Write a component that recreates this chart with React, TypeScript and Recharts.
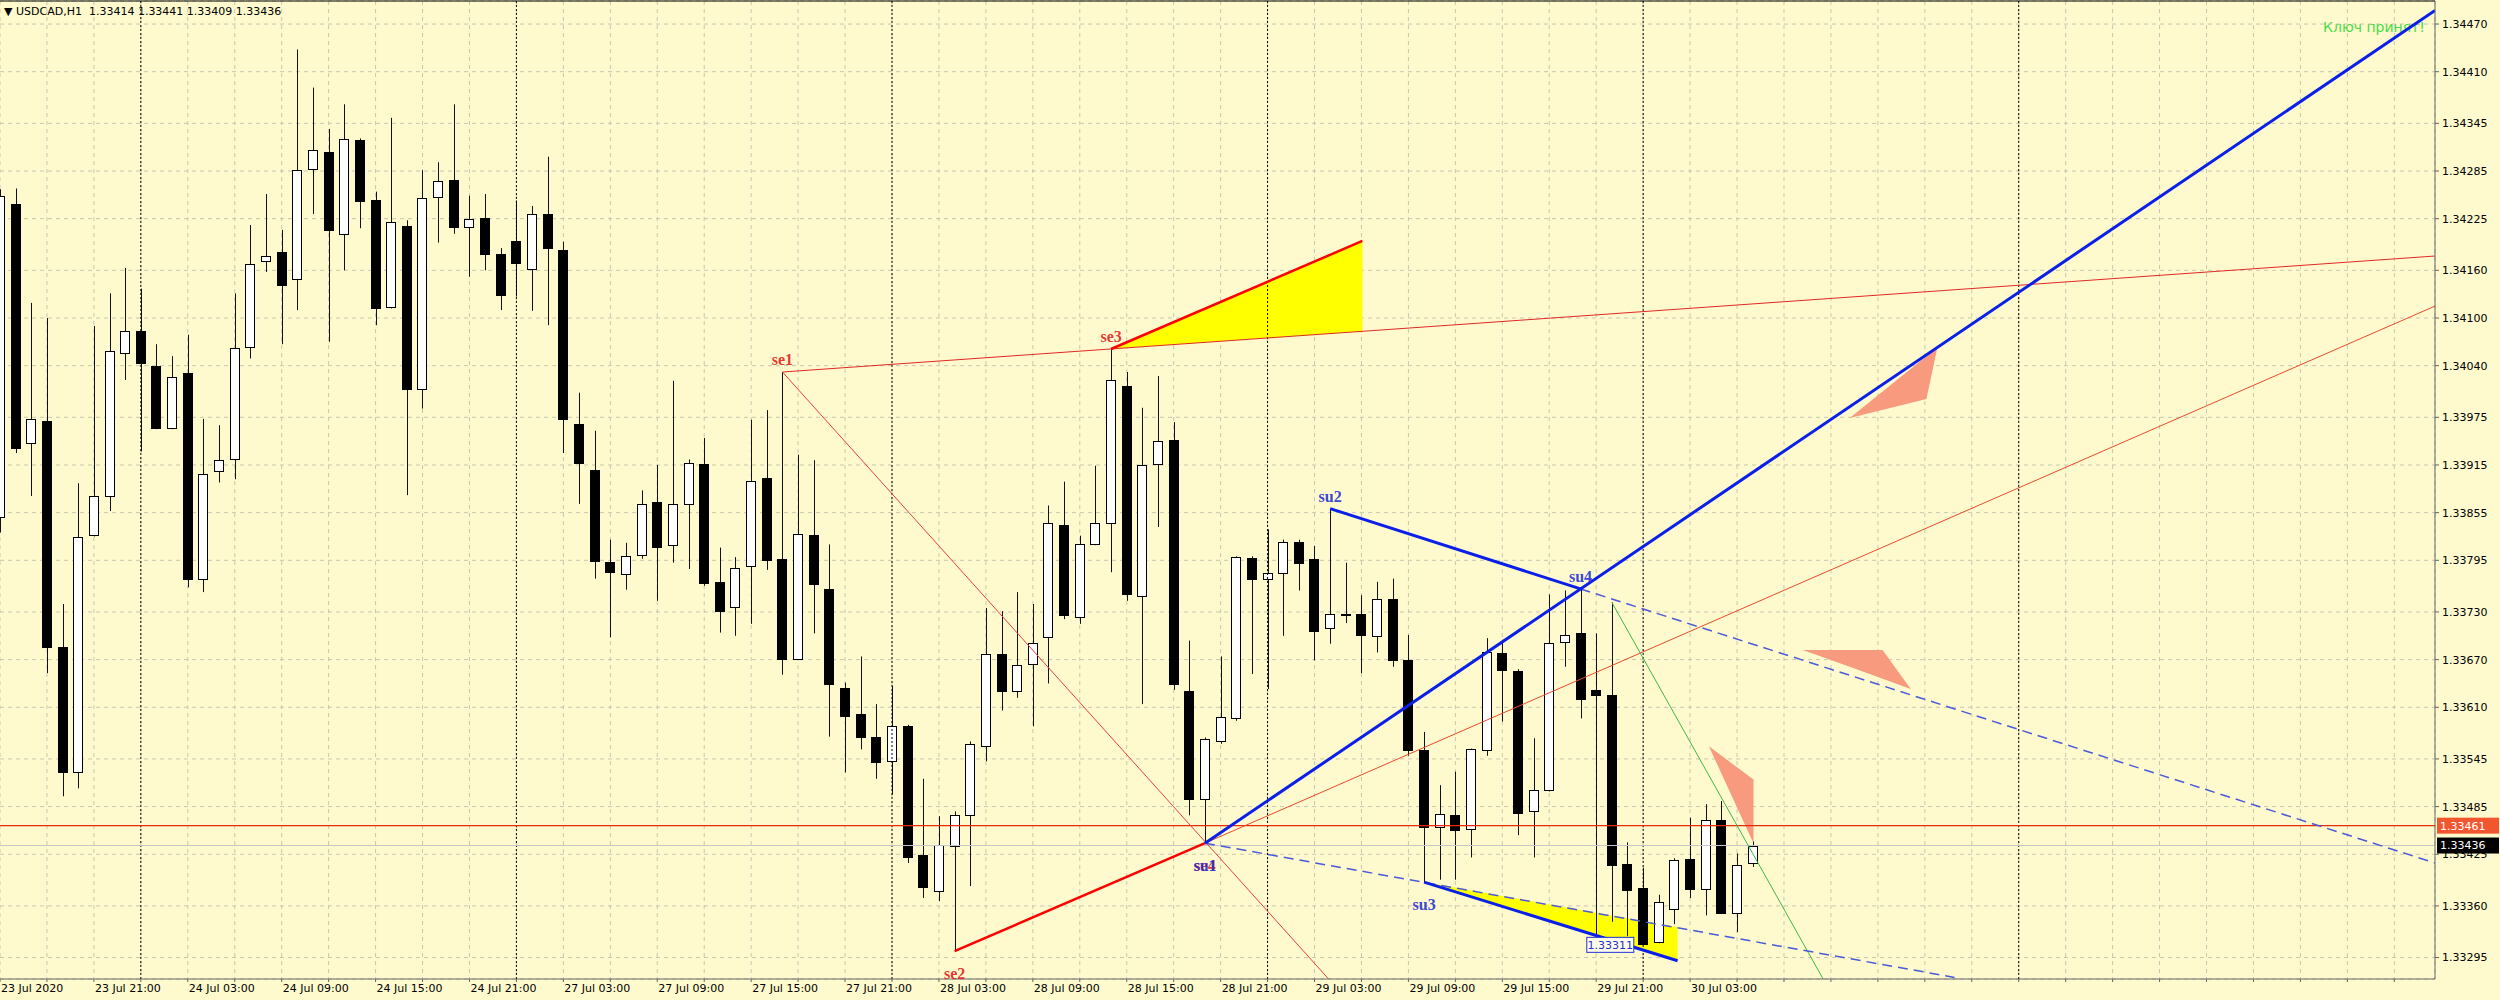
import { Area, Bar, CartesianGrid, ComposedChart, Line, ReferenceDot, ReferenceLine, XAxis, YAxis } from 'recharts';

const BG = '#fffacd';
const FONT = '"DejaVu Sans", sans-serif';
const SERIF = '"Liberation Serif", serif';

// USDCAD H1, bar 0 = 23 Jul 15:00
const opens = [
  1.33849, 1.34244, 1.33943, 1.3397, 1.33686, 1.33528, 1.33827, 1.33876, 1.34056, 1.34084,
  1.3404, 1.33962, 1.34031, 1.33772, 1.33907, 1.33922, 1.34063, 1.34172, 1.34183, 1.34149,
  1.34287, 1.34309, 1.34206, 1.34324, 1.34248, 1.34114, 1.34216, 1.34011, 1.34252, 1.34274,
  1.34214, 1.34226, 1.34181, 1.34197, 1.34162, 1.34231, 1.34185, 1.33967, 1.33909, 1.33793,
  1.33778, 1.33802, 1.33868, 1.33814, 1.33866, 1.33916, 1.33768, 1.33736, 1.33788, 1.33899,
  1.33797, 1.33671, 1.33827, 1.33759, 1.33634, 1.33602, 1.33573, 1.33542, 1.33586, 1.33424,
  1.33379, 1.33435, 1.33475, 1.33561, 1.33677, 1.33631, 1.33665, 1.33698, 1.33839, 1.33724,
  1.33815, 1.33842, 1.34015, 1.3375, 1.33916, 1.33947, 1.33631, 1.33494, 1.33567, 1.33597,
  1.33798, 1.33772, 1.33779, 1.33818, 1.33797, 1.3371, 1.33726, 1.33727, 1.337, 1.33746,
  1.3367, 1.33556, 1.33459, 1.33475, 1.33457, 1.33556, 1.33678, 1.33656, 1.33479, 1.33506,
  1.33692, 1.33704, 1.33632, 1.33625, 1.33413, 1.33383, 1.33314, 1.33356, 1.33419, 1.33381,
  1.33468, 1.33351, 1.33414,
];
const highs = [
  1.34262, 1.34263, 1.34119, 1.341, 1.3374, 1.33892, 1.3409, 1.34131, 1.34163, 1.34137,
  1.34067, 1.34052, 1.34079, 1.33973, 1.33965, 1.34131, 1.34217, 1.34256, 1.34211, 1.34438,
  1.3439, 1.34338, 1.34369, 1.34326, 1.34259, 1.34352, 1.34223, 1.34286, 1.34296, 1.34369,
  1.34254, 1.34256, 1.34188, 1.34248, 1.34241, 1.34303, 1.34196, 1.34006, 1.33958, 1.33821,
  1.33817, 1.33883, 1.33915, 1.34021, 1.33922, 1.33949, 1.33811, 1.33799, 1.33972, 1.33984,
  1.34032, 1.33928, 1.33921, 1.33815, 1.33641, 1.33674, 1.33614, 1.33637, 1.33588, 1.3352,
  1.33473, 1.33479, 1.33567, 1.33735, 1.33731, 1.33755, 1.3374, 1.33864, 1.33894, 1.33826,
  1.33914, 1.34061, 1.34032, 1.33987, 1.34027, 1.33969, 1.33694, 1.33572, 1.33674, 1.338,
  1.338, 1.33834, 1.33821, 1.33821, 1.33813, 1.3386, 1.33792, 1.33751, 1.33768, 1.33772,
  1.33701, 1.33579, 1.33512, 1.33529, 1.33558, 1.33697, 1.33695, 1.33658, 1.33571, 1.33752,
  1.33757, 1.33759, 1.33703, 1.33742, 1.3344, 1.33408, 1.33374, 1.3342, 1.33471, 1.33488,
  1.33492, 1.33426, 1.33441,
];
const lows = [
  1.3383, 1.3393, 1.33876, 1.33653, 1.33498, 1.33508, 1.33825, 1.33857, 1.34022, 1.33932,
  1.3396, 1.3396, 1.33761, 1.33755, 1.33893, 1.33897, 1.34049, 1.34158, 1.34067, 1.3411,
  1.34231, 1.3407, 1.3416, 1.34213, 1.34091, 1.34112, 1.33877, 1.33986, 1.34195, 1.34206,
  1.34152, 1.3416, 1.3411, 1.34127, 1.34109, 1.34091, 1.3393, 1.33866, 1.33772, 1.33698,
  1.33758, 1.33797, 1.33744, 1.33792, 1.33784, 1.33763, 1.33704, 1.337, 1.33715, 1.33783,
  1.33651, 1.3367, 1.33703, 1.33573, 1.33528, 1.33557, 1.3352, 1.335, 1.33414, 1.3337,
  1.33366, 1.33303, 1.33385, 1.33542, 1.33606, 1.33622, 1.33586, 1.3364, 1.33721, 1.33715,
  1.33814, 1.3378, 1.33744, 1.33614, 1.33837, 1.33632, 1.33474, 1.33439, 1.33564, 1.33593,
  1.33652, 1.33633, 1.337, 1.33757, 1.33669, 1.3369, 1.33716, 1.33653, 1.33679, 1.33661,
  1.33549, 1.3339, 1.33393, 1.33393, 1.33421, 1.33549, 1.33592, 1.33449, 1.33421, 1.33504,
  1.33661, 1.33596, 1.33322, 1.3334, 1.33322, 1.33311, 1.33313, 1.33337, 1.3337, 1.33348,
  1.3335, 1.33327, 1.33409,
];
const closes = [
  1.34253, 1.33936, 1.33973, 1.33686, 1.33528, 1.33824, 1.33876, 1.34058, 1.34084, 1.34043,
  1.33962, 1.34026, 1.33771, 1.33904, 1.33921, 1.34062, 1.34168, 1.34178, 1.34142, 1.34286,
  1.34311, 1.34211, 1.34325, 1.34247, 1.34112, 1.34221, 1.34011, 1.34251, 1.34273, 1.34215,
  1.34224, 1.34181, 1.34129, 1.34169, 1.34231, 1.34188, 1.33973, 1.33917, 1.33794, 1.3378,
  1.338, 1.33866, 1.33812, 1.33866, 1.33918, 1.33766, 1.33731, 1.33785, 1.33895, 1.33796,
  1.33671, 1.33828, 1.33765, 1.33639, 1.33599, 1.33572, 1.33541, 1.33587, 1.33422, 1.33384,
  1.33437, 1.33475, 1.33564, 1.33677, 1.3363, 1.33663, 1.33691, 1.33842, 1.33726, 1.33815,
  1.33842, 1.34022, 1.33752, 1.33915, 1.33945, 1.33639, 1.33494, 1.3357, 1.33598, 1.33799,
  1.33772, 1.33779, 1.33818, 1.33792, 1.33706, 1.33728, 1.33727, 1.33701, 1.33746, 1.3367,
  1.33556, 1.33459, 1.33476, 1.33455, 1.33557, 1.3368, 1.33657, 1.33477, 1.33506, 1.33691,
  1.33701, 1.3362, 1.33625, 1.33412, 1.3338, 1.33312, 1.33365, 1.33418, 1.33381, 1.33468,
  1.33351, 1.33412, 1.33436,
];

// one label every 6 bars, starting at bar 0
const timeLabels = [
  '23 Jul 2020', '23 Jul 21:00', '24 Jul 03:00', '24 Jul 09:00', '24 Jul 15:00', '24 Jul 21:00',
  '27 Jul 03:00', '27 Jul 09:00', '27 Jul 15:00', '27 Jul 21:00', '28 Jul 03:00', '28 Jul 09:00',
  '28 Jul 15:00', '28 Jul 21:00', '29 Jul 03:00', '29 Jul 09:00', '29 Jul 15:00', '29 Jul 21:00',
  '30 Jul 03:00',
];
const priceTicks = [
  1.3447, 1.3441, 1.34345, 1.34285, 1.34225, 1.3416, 1.341, 1.3404, 1.33975, 1.33915,
  1.33855, 1.33795, 1.3373, 1.3367, 1.3361, 1.33545, 1.33485, 1.33425, 1.3336, 1.33295,
];
const xTicks = Array.from({ length: 52 }, (_, k) => k * 3);
const daySeparators = [9, 33, 57, 81, 105, 129];

const X_DOMAIN: [number, number] = [0, 155.6];
const Y_DOMAIN: [number, number] = [1.33268, 1.34499];

const headerText = '\u25BC USDCAD,H1  1.33414 1.33441 1.33409 1.33436';
const keyText = 'Ключ принят!';
const bidLevel = 1.33461;
const lastPrice = 1.33436;
const minLabel = { x: 102.9, y: 1.33311, text: '1.33311' };

// trend lines [bar, price]
const seTop = [{ x: 50, y: 1.34032 }, { x: 155.6, y: 1.34178 }];
const seDiag = [{ x: 50, y: 1.34032 }, { x: 84.9, y: 1.33268 }];
const seWedge = [{ x: 71, y: 1.34061 }, { x: 87.06, y: 1.34197 }];
const se2su1 = [{ x: 61, y: 1.33303 }, { x: 77, y: 1.33439 }];
const su1Ray = [{ x: 77, y: 1.33439 }, { x: 155.6, y: 1.34115 }];
const blueUp = [{ x: 77, y: 1.33439 }, { x: 155.6, y: 1.34487 }];
const su2su4 = [{ x: 85, y: 1.3386 }, { x: 101, y: 1.33759 }];
const su4Ext = [{ x: 101, y: 1.33759 }, { x: 155.6, y: 1.33414 }];
const su1Ext = [{ x: 77, y: 1.33439 }, { x: 124.9, y: 1.3327 }];
const su3Line = [{ x: 91, y: 1.3339 }, { x: 107.2, y: 1.33291 }];
const greenLine = [{ x: 103, y: 1.33742 }, { x: 116.5, y: 1.33268 }];

// filled shapes [bar, [low, high]]
const yellowTop = [{ x: 71, r: [1.34061, 1.34061] }, { x: 87.06, r: [1.34083, 1.34197] }];
const yellowBottom = [{ x: 91, r: [1.3339, 1.3339] }, { x: 107.2, r: [1.33291, 1.33333] }];
const arrowUpper = [
  { x: 118.2, r: [1.33974, 1.33974] },
  { x: 123.1, r: [1.33998, 1.34052] },
  { x: 123.8, r: [1.34063, 1.34063] },
];
const arrowMiddle = [
  { x: 115.2, r: [1.33682, 1.33682] },
  { x: 118.2, r: [1.33661, 1.33682] },
  { x: 120.3, r: [1.33646, 1.33682] },
  { x: 122.1, r: [1.33633, 1.33633] },
];
const arrowLower = [{ x: 109.2, r: [1.33561, 1.33561] }, { x: 112.05, r: [1.33439, 1.33519] }];

const pointsAbove = [
  { x: 50, y: 1.34032, text: 'se1' },
  { x: 71, y: 1.34061, text: 'se3' },
  { x: 85, y: 1.3386, text: 'su2' },
  { x: 101, y: 1.33759, text: 'su4' },
];
const pointsBelow = [
  { x: 61, y: 1.33303, text: 'se2' },
  { x: 77, y: 1.33439, text: 'se4' },
  { x: 77, y: 1.33439, text: 'su1' },
  { x: 91, y: 1.3339, text: 'su3' },
];

const candles = opens.map((o, i) => ({ x: i, o, h: highs[i], l: lows[i], c: closes[i] }));

const Candle = (props: any) => {
  const { x, y, width, height, payload } = props;
  const { o, h, l, c } = payload;
  const cx = Math.round(x + width / 2) + 0.5;
  const span = h - l || 1;
  const py = (v: number) => y + ((h - v) / span) * height;
  const top = Math.round(py(Math.max(o, c))) + 0.5;
  const bot = Math.round(py(Math.min(o, c))) + 0.5;
  const up = c >= o;
  return (
    <g>
      <line x1={cx} x2={cx} y1={y} y2={y + height} stroke="#111" />
      <rect x={cx - 5} y={top} width={9} height={Math.max(bot - top, 1)} fill={up ? '#fff' : '#000'} stroke="#000" />
    </g>
  );
};

const TimeTick = (props: any) => {
  const { x, y, payload } = props;
  const k = payload.value / 6;
  const label = Number.isInteger(k) ? timeLabels[k] : undefined;
  if (!label) return <g />;
  return (
    <text x={x + 1} y={y} dy={9} fontSize={11} fontFamily={FONT} fill="#000" textAnchor="start">
      {label}
    </text>
  );
};

const priceTag = (bg: string, value: number) => (p: any) => {
  const vb = p.viewBox;
  const left = vb.x + vb.width + 2;
  return (
    <g>
      <rect x={left} y={vb.y - 8} width={62} height={16} fill={bg} />
      <text x={left + 3} y={vb.y} dy="0.36em" fontSize={11} fontFamily={FONT} fill="#fff">
        {value.toFixed(5)}
      </text>
    </g>
  );
};

const pointLabel = (text: string, dy: number) => (s: any) => (
  <text
    x={s.cx}
    y={s.cy + dy}
    textAnchor="middle"
    fontSize={16}
    fontWeight={600}
    fontFamily={SERIF}
    fill={text.startsWith('se') ? '#e02020' : '#2030d8'}
    fillOpacity={0.9}
  >
    {text}
  </text>
);

const lineProps = { isAnimationActive: false, dot: false, activeDot: false, dataKey: 'y', legendType: 'none' as const };
const areaProps = { isAnimationActive: false, dataKey: 'r', type: 'linear' as const, stroke: 'none', fillOpacity: 1, activeDot: false, legendType: 'none' as const };

export default function App() {
  return (
    <div style={{ position: 'absolute', left: 0, top: 0, width: 2500, height: 1000, background: BG, fontFamily: FONT }}>
      <div style={{ position: 'absolute', left: 4, top: 5, fontSize: 11, lineHeight: '14px', color: '#000', whiteSpace: 'pre' }}>
        {headerText}
      </div>
      <div style={{ position: 'absolute', left: 2323, top: 18, fontSize: 14, lineHeight: '18px', color: '#44dd44', whiteSpace: 'pre' }}>
        {keyText}
      </div>
      <div style={{ position: 'absolute', left: 0, top: 0 }}>
        <ComposedChart width={2500} height={1000} data={candles} margin={{ top: 1, right: 0, bottom: 0, left: 0 }}>
          <CartesianGrid stroke="#c9c6b0" strokeDasharray="4 4" />
          <XAxis
            dataKey="x"
            type="number"
            domain={X_DOMAIN}
            allowDataOverflow
            ticks={xTicks}
            interval={0}
            height={21}
            tickSize={3}
            tickMargin={1}
            axisLine={{ stroke: '#666' }}
            tickLine={{ stroke: '#666' }}
            tick={<TimeTick />}
          />
          <YAxis
            orientation="right"
            type="number"
            domain={Y_DOMAIN}
            allowDataOverflow
            ticks={priceTicks}
            interval={0}
            width={65}
            tickSize={4}
            tickMargin={3}
            axisLine={{ stroke: '#666' }}
            tickLine={{ stroke: '#666' }}
            tick={{ fontSize: 11, fontFamily: FONT, fill: '#000' }}
            tickFormatter={(v: number) => v.toFixed(5)}
          />
          <ReferenceLine y={Y_DOMAIN[1]} stroke="#000" />
          {daySeparators.map((d) => (
            <ReferenceLine key={d} x={d} stroke="#000" strokeDasharray="2 2" />
          ))}
          <ReferenceLine y={lastPrice} stroke="#c8c8c8" label={priceTag('#000', lastPrice)} />
          <ReferenceLine y={bidLevel} stroke="#e62a0a" strokeWidth={1.2} label={priceTag('#f2562e', bidLevel)} />

          <Area {...areaProps} data={yellowTop} fill="#ffff00" />
          <Area {...areaProps} data={yellowBottom} fill="#ffff00" />
          <Area {...areaProps} data={arrowUpper} fill="#f89a7e" />
          <Area {...areaProps} data={arrowMiddle} fill="#f89a7e" />
          <Area {...areaProps} data={arrowLower} fill="#f89a7e" />

          <Bar dataKey={(d: any) => [d.l, d.h]} barSize={10} isAnimationActive={false} shape={<Candle />} />

          <Line {...lineProps} data={seTop} stroke="#e02828" strokeWidth={1} />
          <Line {...lineProps} data={seDiag} stroke="#e84040" strokeWidth={1} />
          <Line {...lineProps} data={su1Ray} stroke="#e84a30" strokeWidth={1} />
          <Line {...lineProps} data={greenLine} stroke="#3cb84a" strokeWidth={1} />
          <Line {...lineProps} data={su4Ext} stroke="#4a5ad8" strokeWidth={1.5} strokeDasharray="10 6" />
          <Line {...lineProps} data={su1Ext} stroke="#4a5ad8" strokeWidth={1.5} strokeDasharray="10 6" />
          <Line {...lineProps} data={seWedge} stroke="#ff0000" strokeWidth={2.5} />
          <Line {...lineProps} data={se2su1} stroke="#ff0000" strokeWidth={2.5} />
          <Line {...lineProps} data={blueUp} stroke="#0a20e8" strokeWidth={3} />
          <Line {...lineProps} data={su2su4} stroke="#0a20e8" strokeWidth={3} />
          <Line {...lineProps} data={su3Line} stroke="#0a20e8" strokeWidth={3} />

          {pointsAbove.map((p) => (
            <ReferenceDot key={p.text} x={p.x} y={p.y} r={0} shape={pointLabel(p.text, -7)} />
          ))}
          {pointsBelow.map((p) => (
            <ReferenceDot key={p.text} x={p.x} y={p.y} r={0} shape={pointLabel(p.text, 28)} />
          ))}
          <ReferenceDot
            x={minLabel.x}
            y={minLabel.y}
            r={0}
            shape={(s: any) => (
              <g>
                <rect x={s.cx - 23.5} y={s.cy - 7.5} width={47} height={15} fill="#fffde8" stroke="#2030d8" />
                <text x={s.cx} y={s.cy} dy="0.36em" textAnchor="middle" fontSize={11} fontFamily={FONT} fill="#2030d8">
                  {minLabel.text}
                </text>
              </g>
            )}
          />
        </ComposedChart>
      </div>
    </div>
  );
}
